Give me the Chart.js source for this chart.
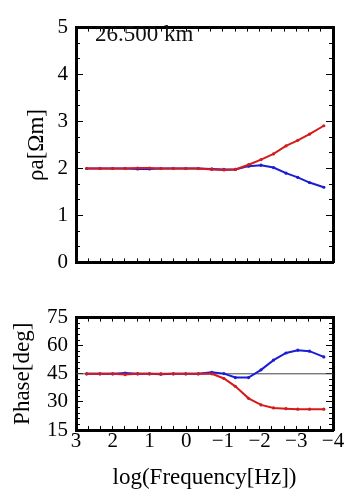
<!DOCTYPE html>
<html>
<head>
<meta charset="utf-8">
<script src="https://cdn.jsdelivr.net/npm/chart.js@4/dist/chart.umd.min.js"></script>
<style>
  html, body { margin: 0; padding: 0; background: #fff; }
  #wrap { position: relative; width: 347px; height: 496px; overflow: hidden; }
  canvas { position: absolute; left: 0; }
  #rho-chart   { top: 0; }
  #phase-chart { top: 290px; }
  #site {
    position: absolute; left: 95px; top: 21px; line-height: 23px;
    font: 23px "Liberation Serif", "Times New Roman", serif; color: #111;
  }
</style>
</head>
<body>
<div id="wrap">
  <canvas id="rho-chart" width="347" height="290"></canvas>
  <canvas id="phase-chart" width="347" height="206"></canvas>
  <div id="site">26.500 km</div>
</div>
<script>
// ── data ──────────────────────────────────────────────
const logFreq   = [2.71, 2.35, 2.0, 1.66, 1.32, 1.0, 0.69, 0.35, 0.01, -0.33,
                   -0.70, -1.03, -1.34, -1.70, -2.04, -2.38, -2.72, -3.04, -3.36, -3.75];
const rhoRed    = [2.0, 2.0, 2.0, 2.0, 2.01, 2.01, 2.0, 2.0, 2.0, 2.0,
                   1.98, 1.97, 1.98, 2.08, 2.19, 2.31, 2.48, 2.60, 2.73, 2.91];
const rhoBlue   = [2.0, 2.0, 2.0, 2.0, 1.99, 1.99, 2.0, 2.0, 2.0, 2.0,
                   1.99, 1.98, 1.98, 2.05, 2.07, 2.02, 1.90, 1.81, 1.70, 1.60];
const phaseRed  = [45, 45, 45, 44.6, 45, 45, 45, 45, 45, 45,
                   45, 42.5, 38.3, 31.9, 28.4, 26.8, 26.4, 26.1, 26.1, 26.1];
const phaseBlue = [45, 45, 45, 45.4, 45, 45, 44.8, 45, 45, 45,
                   45.8, 45.1, 43.0, 43.0, 47.1, 52.3, 56.1, 57.6, 57.1, 54.0];
const phaseRef  = 45;

const freqTicks  = [3, 2, 1, 0, -1, -2, -3, -4];
const freqLabels = ['3', '2', '1', '0', '\u22121', '\u22122', '\u22123', '\u22124'];
const rhoTicks   = [0, 1, 2, 3, 4, 5];
const phaseTicks = [15, 30, 45, 60, 75];

const RED  = '#d41c1c';
const BLUE = '#1c1cd6';
const SERIF = '"Liberation Serif", "Times New Roman", serif';

function steps(lo, hi, n) {
  // minor tick positions, n equal steps between lo and hi
  const out = [];
  const d = (hi - lo) / n;
  for (let i = 0; i <= n; i++) out.push({ value: lo + i * d });
  return out;
}

function series(ys, color) {
  return {
    data: logFreq.map((x, i) => ({ x, y: ys[i] })),
    borderColor: color,
    backgroundColor: color,
    borderWidth: 2,
    pointRadius: 1.6,
    pointBorderWidth: 0,
    pointBackgroundColor: color,
    tension: 0,
    showLine: true
  };
}

function frameAxis(pos, extra) {
  return Object.assign({
    type: 'linear',
    position: pos,
    grid: { drawOnChartArea: false, drawTicks: true, tickLength: -4, color: '#000', lineWidth: 1 },
    border: { display: false },
    ticks: { display: false, autoSkip: false }
  }, extra);
}

function xAxes(withLabels, bottomH) {
  const minor = () => steps(-4, 3, 21);
  return {
    x: frameAxis('bottom', {
      min: -4, max: 3, reverse: true,
      border: { display: true, width: 3, color: '#000' },
      afterBuildTicks: s => { s.ticks = minor(); },
      afterFit: s => { s.height = bottomH; },
      ticks: withLabels ? {
        display: true, autoSkip: false, maxRotation: 0, padding: 3,
        color: '#000', font: { family: SERIF, size: 21 },
        callback: v => {
          const k = freqTicks.findIndex(t => Math.abs(t - v) < 1e-6);
          return k >= 0 ? freqLabels[k] : '';
        }
      } : { display: false, autoSkip: false },
      title: withLabels ? {
        display: true, text: 'log(Frequency[Hz])', color: '#000',
        font: { family: SERIF, size: 23 }, padding: { top: 0, bottom: 4 }
      } : { display: false }
    }),
    xTop: frameAxis('top', {
      min: -4, max: 3, reverse: true,
      border: { display: true, width: 3, color: '#000' },
      afterBuildTicks: s => { s.ticks = minor(); },
      afterFit: s => { s.height = 0; }
    })
  };
}

function yAxes(min, max, major, nMinor, title, titlePad) {
  const majors = () => major.map(v => ({ value: v }));
  const minors = () => steps(min, max, nMinor);
  return {
    y: frameAxis('left', {
      min, max,
      grid: { drawOnChartArea: false, drawTicks: true, tickLength: -7, color: '#000', lineWidth: 1 },
      border: { display: true, width: 3, color: '#000' },
      afterBuildTicks: s => { s.ticks = majors(); },
      afterFit: s => { s.width = 76; },
      ticks: { display: true, autoSkip: false, padding: 15, color: '#000', font: { family: SERIF, size: 21 } },
      title: { display: true, text: title, color: '#000', font: { family: SERIF, size: 23 },
               padding: { top: titlePad, bottom: 0 } }
    }),
    yMinor: frameAxis('left', {
      min, max, weight: -1,
      afterBuildTicks: s => { s.ticks = minors(); },
      afterFit: s => { s.width = 0; }
    }),
    yRight: frameAxis('right', {
      min, max,
      grid: { drawOnChartArea: false, drawTicks: true, tickLength: -7, color: '#000', lineWidth: 1 },
      border: { display: true, width: 3, color: '#000' },
      afterBuildTicks: s => { s.ticks = majors(); },
      afterFit: s => { s.width = 0; }
    }),
    yRightMinor: frameAxis('right', {
      min, max, weight: -1,
      afterBuildTicks: s => { s.ticks = minors(); },
      afterFit: s => { s.width = 0; }
    })
  };
}

const common = {
  responsive: false,
  animation: false,
  devicePixelRatio: 1,
  plugins: { legend: { display: false }, tooltip: { enabled: false } }
};

// ρa panel
new Chart(document.getElementById('rho-chart'), {
  type: 'scatter',
  data: {
    datasets: [series(rhoRed, RED), series(rhoBlue, BLUE)]
  },
  options: Object.assign({}, common, {
    layout: { padding: { left: 0, right: 14, top: 13, bottom: 21 } },
    scales: Object.assign(xAxes(false, 0), yAxes(0, 5, rhoTicks, 15, 'ρa[Ωm]', 23))
  })
});

// phase panel
new Chart(document.getElementById('phase-chart'), {
  type: 'scatter',
  data: {
    datasets: [
      series(phaseRed, RED),
      series(phaseBlue, BLUE),
      {
        data: [{ x: 3, y: phaseRef }, { x: -4, y: phaseRef }],
        borderColor: '#444', borderWidth: 1, pointRadius: 0, showLine: true
      }
    ]
  },
  options: Object.assign({}, common, {
    layout: { padding: { left: 0, right: 14, top: 13, bottom: 0 } },
    scales: Object.assign(xAxes(true, 66), yAxes(15, 75, phaseTicks, 20, 'Phase[deg]', 9))
  })
});
</script>
</body>
</html>
